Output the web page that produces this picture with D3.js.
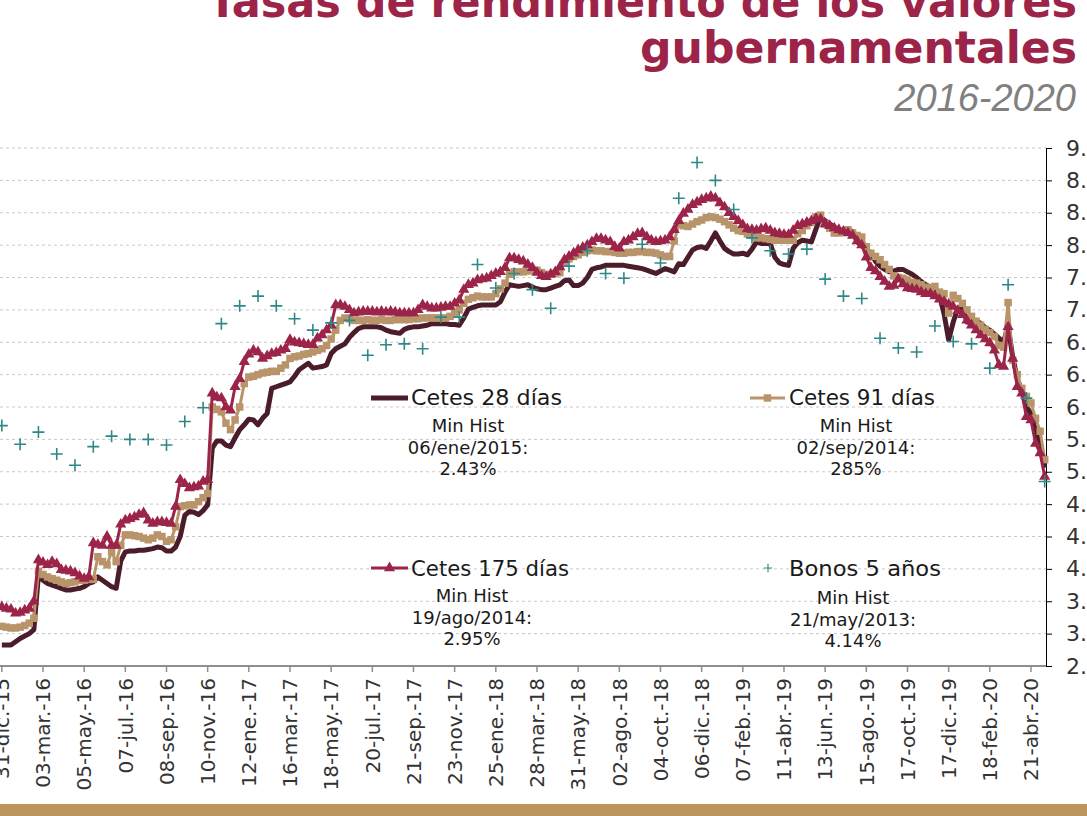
<!DOCTYPE html>
<html>
<head>
<meta charset="utf-8">
<script src="https://cdn.jsdelivr.net/npm/d3@7"></script>
<style>
  html, body { margin: 0; padding: 0; background: #fff; overflow: hidden; }
  svg { display: block; }
</style>
</head>
<body>
<div id="container"></div>
<script>
// weekly auction rates, 31-dic-15 .. may-20 (one value per week)
var xLabels = ["31-dic.-15","03-mar.-16","05-may.-16","07-jul.-16","08-sep.-16","10-nov.-16",
  "12-ene.-17","16-mar.-17","18-may.-17","20-jul.-17","21-sep.-17","23-nov.-17","25-ene.-18",
  "28-mar.-18","31-may.-18","02-ago.-18","04-oct.-18","06-dic.-18","07-feb.-19","11-abr.-19",
  "13-jun.-19","15-ago.-19","17-oct.-19","17-dic.-19","18-feb.-20","21-abr.-20"];

var cetes28 = [
  3.06,3.06,3.06,3.10,3.14,3.17,3.20,3.25,3.92,3.86,
  3.82,3.80,3.78,3.76,3.74,3.74,3.75,3.76,3.78,3.82,
  3.84,3.90,3.86,3.82,3.78,3.76,4.10,4.21,4.22,4.22,
  4.23,4.23,4.24,4.25,4.27,4.26,4.22,4.22,4.27,4.40,
  4.66,4.71,4.70,4.67,4.72,4.79,5.49,5.58,5.58,5.53,
  5.51,5.62,5.72,5.78,5.85,5.84,5.78,5.86,5.92,6.23,
  6.25,6.27,6.29,6.31,6.38,6.46,6.50,6.54,6.48,6.49,
  6.50,6.52,6.66,6.72,6.75,6.78,6.86,6.92,6.97,6.99,
  6.99,6.99,6.99,6.98,6.95,6.93,6.92,6.91,6.96,6.98,
  6.99,6.99,7.00,7.01,7.03,7.03,7.03,7.03,7.02,7.02,
  7.01,7.10,7.21,7.23,7.25,7.26,7.26,7.26,7.26,7.30,
  7.42,7.51,7.50,7.49,7.50,7.51,7.48,7.46,7.45,7.45,
  7.47,7.49,7.51,7.56,7.57,7.50,7.50,7.53,7.60,7.70,
  7.72,7.73,7.75,7.75,7.75,7.75,7.75,7.74,7.73,7.72,
  7.71,7.69,7.67,7.65,7.68,7.71,7.69,7.67,7.77,7.76,
  7.85,7.94,7.97,7.98,7.96,8.05,8.15,8.05,7.96,7.92,
  7.89,7.89,7.90,7.88,7.95,8.04,8.02,8.02,8.02,7.85,
  7.78,7.76,7.75,7.96,8.03,8.06,8.05,8.04,8.20,8.35,
  8.30,8.26,8.22,8.19,8.18,8.17,8.17,8.04,7.99,7.95,
  7.90,7.80,7.74,7.70,7.67,7.68,7.70,7.70,7.67,7.64,
  7.60,7.55,7.51,7.48,7.44,7.38,7.15,6.83,7.05,7.22,
  7.24,7.05,7.04,7.07,7.03,6.98,6.95,6.90,6.85,6.80,
  7.00,6.62,6.35,6.20,6.00,5.92,5.70,5.55,5.25];

var cetes91 = [
  3.29,3.28,3.27,3.27,3.28,3.30,3.33,3.39,3.97,3.93,
  3.90,3.88,3.86,3.84,3.82,3.83,3.84,3.86,3.86,3.87,
  3.87,4.15,4.09,4.05,4.21,4.09,4.29,4.42,4.42,4.41,
  4.40,4.38,4.36,4.38,4.42,4.40,4.34,4.36,4.52,4.77,
  4.78,4.79,4.79,4.83,4.88,4.93,6.00,5.97,5.94,5.80,
  5.72,5.84,6.00,6.29,6.37,6.38,6.40,6.42,6.43,6.44,
  6.44,6.48,6.52,6.60,6.62,6.63,6.65,6.66,6.68,6.70,
  6.72,6.76,6.84,6.95,7.07,7.10,7.09,7.07,7.07,7.07,
  7.08,7.07,7.07,7.08,7.07,7.07,7.08,7.08,7.08,7.08,
  7.09,7.09,7.10,7.10,7.10,7.10,7.10,7.10,7.12,7.16,
  7.20,7.28,7.33,7.35,7.37,7.36,7.36,7.36,7.40,7.46,
  7.53,7.64,7.67,7.67,7.67,7.68,7.69,7.69,7.66,7.63,
  7.64,7.65,7.66,7.78,7.83,7.86,7.88,7.91,7.93,7.94,
  7.93,7.93,7.92,7.92,7.91,7.90,7.90,7.91,7.91,7.92,
  7.92,7.91,7.91,7.90,7.88,7.86,7.86,8.05,8.26,8.24,
  8.23,8.26,8.29,8.31,8.34,8.35,8.34,8.32,8.29,8.25,
  8.21,8.18,8.17,8.14,8.12,8.09,8.09,8.08,8.07,8.06,
  8.06,8.06,8.06,8.06,8.14,8.18,8.24,8.28,8.35,8.37,
  8.26,8.21,8.15,8.15,8.17,8.19,8.15,8.12,8.10,7.98,
  7.90,7.86,7.82,7.76,7.70,7.62,7.60,7.59,7.57,7.54,
  7.53,7.51,7.48,7.47,7.49,7.42,7.40,7.16,7.38,7.34,
  7.28,7.20,7.12,7.06,7.01,6.96,6.92,6.87,6.76,6.74,
  7.29,6.58,6.40,6.23,6.13,6.05,5.86,5.70,5.35];

var cetes175 = [
  3.53,3.51,3.50,3.45,3.46,3.49,3.51,3.60,4.11,4.08,
  4.05,4.09,4.06,3.99,3.98,3.97,3.95,3.91,3.88,3.90,
  4.32,4.30,4.29,4.40,4.29,4.29,4.55,4.60,4.62,4.64,
  4.67,4.69,4.60,4.56,4.58,4.58,4.57,4.56,4.77,5.10,
  5.05,5.00,5.01,5.02,5.08,5.10,6.17,6.12,6.11,6.00,
  5.96,6.25,6.35,6.56,6.65,6.70,6.68,6.60,6.63,6.66,
  6.67,6.70,6.72,6.83,6.80,6.79,6.78,6.77,6.77,6.85,
  6.89,6.95,7.01,7.26,7.26,7.24,7.20,7.16,7.17,7.18,
  7.18,7.18,7.17,7.18,7.17,7.18,7.17,7.16,7.16,7.16,
  7.16,7.20,7.26,7.24,7.22,7.22,7.23,7.24,7.24,7.28,
  7.32,7.45,7.51,7.53,7.57,7.58,7.59,7.62,7.65,7.67,
  7.72,7.84,7.84,7.82,7.80,7.76,7.72,7.66,7.62,7.61,
  7.64,7.67,7.73,7.82,7.86,7.90,7.94,7.97,8.00,8.04,
  8.08,8.08,8.06,8.04,7.98,7.96,8.04,8.06,8.10,8.14,
  8.15,8.10,8.06,8.04,8.05,8.06,8.10,8.19,8.30,8.39,
  8.44,8.50,8.53,8.56,8.58,8.60,8.58,8.52,8.47,8.40,
  8.35,8.30,8.25,8.20,8.19,8.18,8.20,8.21,8.18,8.15,
  8.14,8.13,8.13,8.18,8.24,8.26,8.28,8.30,8.33,8.32,
  8.26,8.24,8.21,8.19,8.17,8.15,8.12,8.05,8.00,7.85,
  7.72,7.68,7.61,7.55,7.49,7.50,7.58,7.52,7.47,7.46,
  7.45,7.42,7.40,7.40,7.37,7.33,7.30,7.27,7.24,7.19,
  7.14,7.07,7.01,6.95,6.89,6.84,6.79,6.70,6.52,6.50,
  6.99,6.60,6.25,6.17,5.88,5.84,5.55,5.43,5.14];

// bonos 5 años, one value every 4 weeks
var bonos5 = [
  5.77,5.54,5.69,5.42,5.28,5.51,5.64,5.60,5.60,5.53,5.82,5.99,
  7.03,7.25,7.37,7.25,7.09,6.95,7.04,7.07,6.64,6.77,6.78,6.72,7.11,7.11,7.76,
  7.47,7.65,7.45,7.22,7.74,7.93,7.65,7.59,8.01,7.78,8.58,9.02,8.80,8.44,8.09,
  7.93,7.89,7.95,7.58,7.37,7.34,6.85,6.73,6.68,7.00,6.81,6.78,6.48,7.51,6.11,5.08];

var minHist = [
  {name: "Cetes 28 días",  date: "06/ene/2015:", value: "2.43%"},
  {name: "Cetes 91 días",  date: "02/sep/2014:", value: "285%"},
  {name: "Cetes 175 días", date: "19/ago/2014:", value: "2.95%"},
  {name: "Bonos 5 años",   date: "21/may/2013:", value: "4.14%"}
];

var yMin = 2.8, yMax = 9.2, yStep = 0.4;
var labelEvery = 9, bonosEvery = 4;

var width = 1087, height = 816;
var col28 = "#4b1c2a", col91 = "#b9946a", col175 = "#9d2449", colBonos = "#2f8888";
var sans = "'DejaVu Sans', sans-serif";

var svg = d3.select("div#container")
  .append("svg")
  .attr("width", width)
  .attr("height", height)
  .attr("viewBox", "0 0 " + width + " " + height);

svg.append("rect").attr("width", width).attr("height", height).attr("fill", "#fff");

function fit(sel, w) {
  sel.attr("textLength", w).attr("lengthAdjust", "spacingAndGlyphs");
}

// title
svg.append("text").attr("x", 1077).attr("y", 17)
  .attr("text-anchor", "end").style("font-family", sans).style("font-weight", "bold")
  .style("font-size", "44px").style("fill", col175)
  .text("Tasas de rendimiento de los valores").call(fit, 869);
svg.append("text").attr("x", 1077).attr("y", 63)
  .attr("text-anchor", "end").style("font-family", sans).style("font-weight", "bold")
  .style("font-size", "44px").style("fill", col175)
  .text("gubernamentales").call(fit, 437);
svg.append("text").attr("x", 1076).attr("y", 111)
  .attr("text-anchor", "end").style("font-family", "'Liberation Sans', Arial, sans-serif")
  .style("font-style", "italic").style("font-size", "38px").style("fill", "#808080")
  .text("2016-2020");

// scales
var n = cetes28.length;
var x = d3.scaleLinear().domain([0, n - 1]).range([1.83, 1044.7]);
var y = d3.scaleLinear().domain([yMin, yMax]).range([666, 148]);
var axisX = 1046;

var majorTicks = d3.range(0, Math.round((yMax - yMin) / yStep) + 1).map(function(k) { return yMin + k * yStep; });
var minorTicks = d3.range(0, Math.round((yMax - yMin) / (yStep / 2)) + 1).map(function(k) { return yMin + k * yStep / 2; });

// gridlines
svg.append("g").selectAll("line")
  .data(majorTicks.filter(function(d) { return d > yMin; }))
  .enter().append("line")
  .attr("x1", 0).attr("x2", axisX)
  .attr("y1", function(d) { return y(d); }).attr("y2", function(d) { return y(d); })
  .style("stroke", "#c9c9c9").style("stroke-width", 1).style("stroke-dasharray", "3,3");

// x axis
svg.append("line").attr("x1", 0).attr("x2", axisX).attr("y1", 666).attr("y2", 666)
  .style("stroke", "#8f8f8f").style("stroke-width", 2);

var xTickIdx = d3.range(0, n, labelEvery);
svg.append("g").selectAll("line").data(xTickIdx).enter().append("line")
  .attr("x1", function(d) { return x(d); }).attr("x2", function(d) { return x(d); })
  .attr("y1", 666).attr("y2", 672)
  .style("stroke", "#8f8f8f").style("stroke-width", 1.5);

svg.append("g").selectAll("text").data(xTickIdx).enter().append("text")
  .attr("transform", function(d) { return "translate(" + x(d) + ",678) rotate(-90)"; })
  .attr("text-anchor", "end").attr("dy", "0.36em")
  .style("font-family", sans).style("font-size", "20px").style("fill", "#333")
  .text(function(d, i) { return xLabels[i]; });

// y axis (right)
var yAxis = svg.append("g").attr("transform", "translate(" + axisX + ",0)");
yAxis.call(d3.axisRight(y).tickValues(minorTicks).tickSize(6).tickFormat(""));
yAxis.call(d3.axisRight(y).tickValues(majorTicks).tickSize(6).tickPadding(14).tickFormat(d3.format(".1f")));
yAxis.selectAll("path").style("stroke", "#000");
yAxis.selectAll("line").style("stroke", "#000");
yAxis.selectAll("text").style("font-family", sans).style("font-size", "22px").style("fill", "#333");

// series
var line = d3.line()
  .x(function(d, i) { return x(i); })
  .y(function(d) { return y(d); });

svg.append("path").datum(cetes28).attr("d", line)
  .style("fill", "none").style("stroke", col28).style("stroke-width", 5).style("stroke-linejoin", "round");

svg.append("path").datum(cetes91).attr("d", line)
  .style("fill", "none").style("stroke", col91).style("stroke-width", 3).style("stroke-linejoin", "round");
svg.append("g").selectAll("path").data(cetes91).enter().append("path")
  .attr("transform", function(d, i) { return "translate(" + x(i) + "," + y(d) + ")"; })
  .attr("d", d3.symbol().type(d3.symbolSquare).size(56))
  .style("fill", col91);

svg.append("path").datum(cetes175).attr("d", line)
  .style("fill", "none").style("stroke", col175).style("stroke-width", 3).style("stroke-linejoin", "round");
svg.append("g").selectAll("path").data(cetes175).enter().append("path")
  .attr("transform", function(d, i) { return "translate(" + x(i) + "," + y(d) + ")"; })
  .attr("d", d3.symbol().type(d3.symbolTriangle).size(54))
  .style("fill", col175);

var cross = "M-6,0H6M0,-6V6";
svg.append("g").selectAll("path").data(bonos5).enter().append("path")
  .attr("transform", function(d, i) { return "translate(" + x(i * bonosEvery) + "," + y(d) + ")"; })
  .attr("d", cross)
  .style("fill", "none").style("stroke", colBonos).style("stroke-width", 1.6);

// legend
var leg = svg.append("g");
leg.append("line").attr("x1", 371).attr("x2", 408).attr("y1", 398).attr("y2", 398)
  .style("stroke", col28).style("stroke-width", 5);
leg.append("line").attr("x1", 750).attr("x2", 785).attr("y1", 398).attr("y2", 398)
  .style("stroke", col91).style("stroke-width", 3);
leg.append("path").attr("transform", "translate(767.5,398)")
  .attr("d", d3.symbol().type(d3.symbolSquare).size(56)).style("fill", col91);
leg.append("line").attr("x1", 371).attr("x2", 408).attr("y1", 568).attr("y2", 568)
  .style("stroke", col175).style("stroke-width", 3);
leg.append("path").attr("transform", "translate(389.5,568)")
  .attr("d", d3.symbol().type(d3.symbolTriangle).size(54)).style("fill", col175);
leg.append("path").attr("transform", "translate(768,568) scale(0.7)").attr("d", cross)
  .style("fill", "none").style("stroke", colBonos).style("stroke-width", 1.6);

var legPos = [
  {x: 411, y: 405, cx: 468, cy: 432, w: 151},
  {x: 789, y: 405, cx: 856, cy: 432, w: 146},
  {x: 411, y: 576, cx: 472, cy: 602, w: 158},
  {x: 789, y: 576, cx: 853, cy: 604, w: 152}
];

minHist.forEach(function(m, k) {
  var p = legPos[k];
  leg.append("text").attr("x", p.x).attr("y", p.y)
    .style("font-family", sans).style("font-size", "22px").style("fill", "#1a1a1a")
    .text(m.name).call(fit, p.w);
  [ "Min Hist", m.date, m.value ].forEach(function(t, j) {
    leg.append("text").attr("x", p.cx).attr("y", p.cy + j * 21.5)
      .attr("text-anchor", "middle")
      .style("font-family", sans).style("font-size", "18px").style("fill", "#1a1a1a")
      .text(t);
  });
});

// bottom band
svg.append("rect").attr("x", 0).attr("y", 804).attr("width", width).attr("height", 12)
  .style("fill", "#bc955c");
</script>
</body>
</html>
